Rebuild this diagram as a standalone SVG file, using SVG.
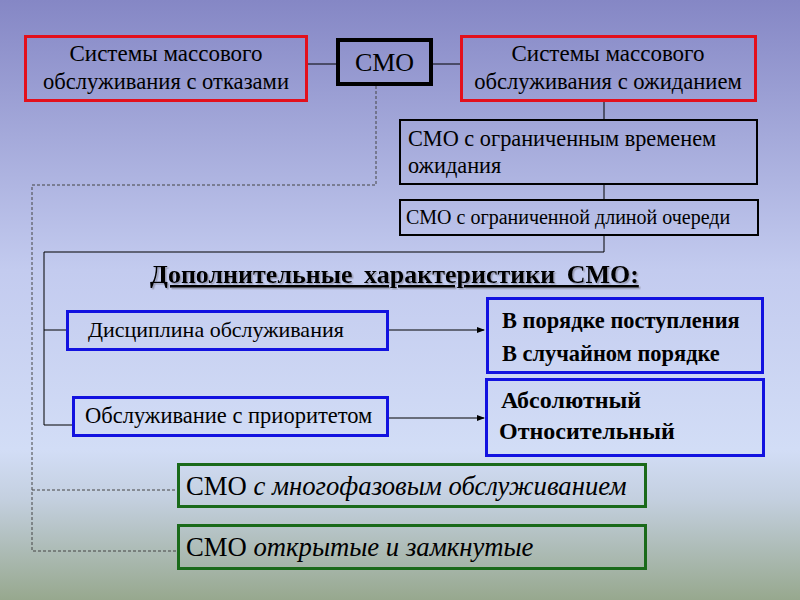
<svg xmlns="http://www.w3.org/2000/svg" width="800" height="600" viewBox="0 0 800 600">
<defs>
<linearGradient id="bg" x1="0" y1="0" x2="0" y2="1">
<stop offset="0" stop-color="#8587c5"/>
<stop offset="0.45" stop-color="#c3cbef"/>
<stop offset="0.75" stop-color="#d2ddf6"/>
<stop offset="0.83" stop-color="#c4d0e0"/>
<stop offset="1" stop-color="#97a88e"/>
</linearGradient>
<marker id="arr" markerWidth="8" markerHeight="6" refX="7" refY="3" orient="auto" markerUnits="userSpaceOnUse">
<path d="M0,0 L8,3 L0,6 z" fill="#000"/>
</marker>
<filter id="sh" x="-5%" y="-30%" width="110%" height="160%">
<feDropShadow dx="1.5" dy="1.5" stdDeviation="0.5" flood-color="#6a6a7a" flood-opacity="0.5"/>
</filter>
</defs>
<style>
text{font-family:"Liberation Serif","Times New Roman",serif;fill:#000}
.red{fill:none;stroke:#e3101c;stroke-width:3}
.blk{fill:none;stroke:#000;stroke-width:2}
.blue{fill:none;stroke:#1212e0;stroke-width:3}
.grn{fill:none;stroke:#1a6a1a;stroke-width:3}
.ln{fill:none;stroke:#000;stroke-width:1}
.dot{fill:none;stroke:#444;stroke-width:1;stroke-dasharray:3,2}
</style>
<rect x="0" y="0" width="800" height="600" fill="url(#bg)"/>
<g id="connectors">
<path class="ln" d="M307,64 H337 M432,64 H461"/>
<path class="ln" d="M604,101 V119 M604,184 V200 M604,235 V252 H44 V425 H73 M44,330 H67"/>
<path class="ln" d="M388,330 H484" marker-end="url(#arr)"/>
<path class="ln" d="M388,418 H484" marker-end="url(#arr)"/>
<path class="dot" d="M376,86 V185 H32 V551 H178 M32,490 H178"/>
</g>
<g id="n-otkaz">
<rect class="red" x="25.5" y="36.5" width="281" height="64"/>
<text x="166" y="61" font-size="23" text-anchor="middle">Системы массового</text>
<text x="166" y="89" font-size="22.6" text-anchor="middle">обслуживания с отказами</text>
</g>
<g id="n-smo">
<rect x="338" y="40" width="93" height="44" fill="none" stroke="#000" stroke-width="4"/>
<text x="384.5" y="71" font-size="26" text-anchor="middle">СМО</text>
</g>
<g id="n-ozhid">
<rect class="red" x="461.5" y="36.5" width="294" height="64"/>
<text x="608" y="61" font-size="23" text-anchor="middle">Системы массового</text>
<text x="608" y="89" font-size="22.6" text-anchor="middle">обслуживания с ожиданием</text>
</g>
<g id="n-vremya">
<rect class="blk" x="400" y="120" width="357" height="64"/>
<text x="408" y="146" font-size="22.3">СМО с ограниченным временем</text>
<text x="408" y="173" font-size="22.3">ожидания</text>
</g>
<g id="n-ochered">
<rect class="blk" x="400" y="200" width="358" height="35"/>
<text x="406" y="224" font-size="20">СМО с ограниченной длиной очереди</text>
</g>
<g id="n-title">
<text x="150" y="283" font-size="26" font-weight="bold" word-spacing="5" text-decoration="underline" filter="url(#sh)">Дополнительные характеристики СМО:</text>
</g>
<g id="n-disc">
<rect class="blue" x="67.5" y="311.5" width="320" height="38"/>
<text x="88" y="337" font-size="22">Дисциплина обслуживания</text>
</g>
<g id="n-prior">
<rect class="blue" x="73.5" y="397.5" width="314" height="38"/>
<text x="85" y="423" font-size="22.5">Обслуживание с приоритетом</text>
</g>
<g id="n-poryadok">
<rect class="blue" x="487.5" y="298.5" width="275" height="74"/>
<text x="502" y="328" font-size="22.4" font-weight="bold">В порядке поступления</text>
<text x="502" y="361" font-size="22.4" font-weight="bold">В случайном порядке</text>
</g>
<g id="n-abs">
<rect class="blue" x="486.5" y="379.5" width="277" height="76"/>
<text x="501" y="408" font-size="24" font-weight="bold">Абсолютный</text>
<text x="499" y="439" font-size="24" font-weight="bold">Относительный</text>
</g>
<g id="n-mnogo">
<rect class="grn" x="178.5" y="464.5" width="467" height="42"/>
<text x="186" y="495" font-size="26.7">СМО <tspan font-style="italic">с многофазовым обслуживанием</tspan></text>
</g>
<g id="n-otkr">
<rect class="grn" x="178.5" y="525.5" width="467" height="43"/>
<text x="186" y="556" font-size="26.7">СМО <tspan font-style="italic">открытые и замкнутые</tspan></text>
</g>
</svg>
